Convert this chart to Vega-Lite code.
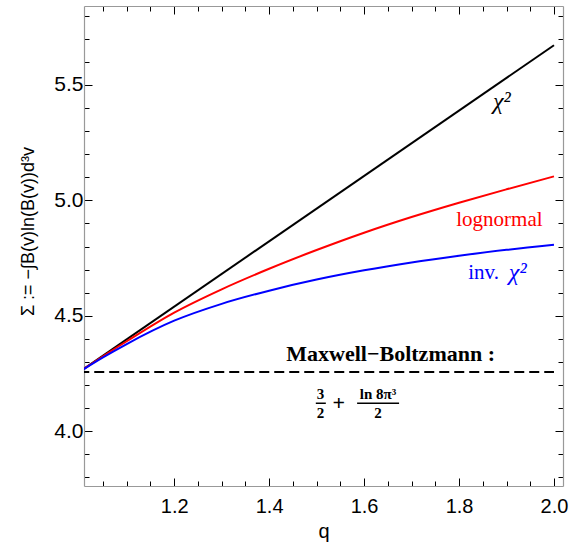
{
  "$schema": "https://vega.github.io/schema/vega-lite/v6.json",
  "width": 479,
  "height": 480,
  "autosize": {"type": "none"},
  "padding": {"left": 84, "top": 6, "right": 14, "bottom": 63},
  "background": "white",
  "config": {"view": {"stroke": null}},
  "datasets": {
    "curves": [
      {"q": 1.0, "s": 4.257, "dist": "chi2"},
      {"q": 2.0, "s": 5.672, "dist": "chi2"},
      {"q": 1.0, "s": 4.257, "dist": "lognormal"},
      {"q": 1.05, "s": 4.325, "dist": "lognormal"},
      {"q": 1.1, "s": 4.39, "dist": "lognormal"},
      {"q": 1.2, "s": 4.514, "dist": "lognormal"},
      {"q": 1.3, "s": 4.615, "dist": "lognormal"},
      {"q": 1.4, "s": 4.704, "dist": "lognormal"},
      {"q": 1.5, "s": 4.785, "dist": "lognormal"},
      {"q": 1.6, "s": 4.86, "dist": "lognormal"},
      {"q": 1.7, "s": 4.928, "dist": "lognormal"},
      {"q": 1.8, "s": 4.99, "dist": "lognormal"},
      {"q": 1.9, "s": 5.048, "dist": "lognormal"},
      {"q": 2.0, "s": 5.104, "dist": "lognormal"},
      {"q": 1.0, "s": 4.257, "dist": "invchi2"},
      {"q": 1.05, "s": 4.32, "dist": "invchi2"},
      {"q": 1.1, "s": 4.378, "dist": "invchi2"},
      {"q": 1.2, "s": 4.479, "dist": "invchi2"},
      {"q": 1.3, "s": 4.552, "dist": "invchi2"},
      {"q": 1.4, "s": 4.609, "dist": "invchi2"},
      {"q": 1.5, "s": 4.657, "dist": "invchi2"},
      {"q": 1.6, "s": 4.697, "dist": "invchi2"},
      {"q": 1.7, "s": 4.731, "dist": "invchi2"},
      {"q": 1.8, "s": 4.76, "dist": "invchi2"},
      {"q": 1.9, "s": 4.786, "dist": "invchi2"},
      {"q": 2.0, "s": 4.808, "dist": "invchi2"}
    ]
  },
  "resolve": {"axis": {"x": "independent", "y": "independent"}},
  "layer": [
    {
      "data": {"name": "curves"},
      "mark": {"type": "line", "strokeWidth": 2, "interpolate": "monotone", "clip": true},
      "encoding": {
        "x": {
          "field": "q", "type": "quantitative",
          "scale": {"domain": [1.01, 2.019], "nice": false, "zero": false},
          "axis": {
            "orient": "bottom",
            "values": [1.05, 1.1, 1.15, 1.2, 1.25, 1.3, 1.35, 1.4, 1.45, 1.5, 1.55, 1.6, 1.65, 1.7, 1.75, 1.8, 1.85, 1.9, 1.95, 2.0],
            "labelExpr": "abs(datum.value*5-round(datum.value*5))<0.001 ? format(datum.value,'.1f') : ''",
            "tickSize": {"condition": {"test": "abs(datum.value*5-round(datum.value*5))<0.001", "value": -8}, "value": -5},
            "tickColor": "#000",
            "tickWidth": 1,
            "domainColor": "#999",
            "domainWidth": 1.2,
            "grid": false,
            "labelFont": "Liberation Sans",
            "labelFontSize": 20,
            "labelColor": "#000",
            "labelPadding": 18,
            "labelFlush": false,
            "title": "q",
            "titleFont": "Liberation Sans",
            "titleFontSize": 20,
            "titleFontWeight": "normal",
            "titleColor": "#000",
            "titlePadding": 5
          }
        },
        "y": {
          "field": "s", "type": "quantitative",
          "scale": {"domain": [3.763, 5.842], "nice": false, "zero": false},
          "axis": {
            "orient": "left",
            "values": [3.8, 3.9, 4.0, 4.1, 4.2, 4.3, 4.4, 4.5, 4.6, 4.7, 4.8, 4.9, 5.0, 5.1, 5.2, 5.3, 5.4, 5.5, 5.6, 5.7, 5.8],
            "labelExpr": "abs(datum.value*2-round(datum.value*2))<0.001 ? format(datum.value,'.1f') : ''",
            "tickSize": {"condition": {"test": "abs(datum.value*2-round(datum.value*2))<0.001", "value": -8}, "value": -5},
            "tickColor": "#000",
            "tickWidth": 1,
            "domainColor": "#999",
            "domainWidth": 1.2,
            "grid": false,
            "labelFont": "Liberation Sans",
            "labelFontSize": 21,
            "labelColor": "#000",
            "labelPadding": 9,
            "labelFlush": false,
            "title": "Σ := −∫B(v)ln(B(v))d³v",
            "titleFont": "Liberation Sans",
            "titleFontSize": 18,
            "titleFontWeight": "normal",
            "titleColor": "#000",
            "titleX": -56,
            "titleY": 225,
            "titleAngle": -90,
            "titleAlign": "center",
            "titleBaseline": "middle"
          }
        },
        "color": {
          "field": "dist", "type": "nominal",
          "scale": {"domain": ["chi2", "lognormal", "invchi2"], "range": ["#000000", "#ff0000", "#0000ff"]},
          "legend": null
        }
      }
    },
    {
      "data": {"values": [{"q": 1.0, "q2": 2.0, "s": 4.257}]},
      "mark": {"type": "rule", "strokeDash": [10, 5], "strokeWidth": 2, "color": "#000", "clip": true},
      "encoding": {
        "x": {
          "field": "q", "type": "quantitative",
          "axis": {
            "orient": "top",
            "values": [1.05, 1.1, 1.15, 1.2, 1.25, 1.3, 1.35, 1.4, 1.45, 1.5, 1.55, 1.6, 1.65, 1.7, 1.75, 1.8, 1.85, 1.9, 1.95, 2.0],
            "labels": false,
            "tickSize": {"condition": {"test": "abs(datum.value*5-round(datum.value*5))<0.001", "value": -8}, "value": -5},
            "tickColor": "#000",
            "domainColor": "#999",
            "domainWidth": 1.2,
            "grid": false,
            "title": null
          }
        },
        "x2": {"field": "q2"},
        "y": {
          "field": "s", "type": "quantitative",
          "axis": {
            "orient": "right",
            "values": [3.8, 3.9, 4.0, 4.1, 4.2, 4.3, 4.4, 4.5, 4.6, 4.7, 4.8, 4.9, 5.0, 5.1, 5.2, 5.3, 5.4, 5.5, 5.6, 5.7, 5.8],
            "labels": false,
            "tickSize": {"condition": {"test": "abs(datum.value*2-round(datum.value*2))<0.001", "value": -8}, "value": -5},
            "tickColor": "#000",
            "domainColor": "#999",
            "domainWidth": 1.2,
            "grid": false,
            "title": null
          }
        }
      }
    },
    {
      "data": {"values": [{"q": 1.4983, "q2": 1.5194, "s": 4.1214}, {"q": 1.5853, "q2": 1.6737, "s": 4.1214}]},
      "mark": {"type": "rule", "strokeWidth": 1.5, "color": "#000"},
      "encoding": {
        "x": {"field": "q", "type": "quantitative", "axis": null},
        "x2": {"field": "q2"},
        "y": {"field": "s", "type": "quantitative", "axis": null}
      }
    },
    {
      "data": {"values": [{"q": 1.89, "s": 5.425, "label": "χ²"}]},
      "mark": {"type": "text", "font": "Liberation Serif", "fontStyle": "italic", "fontSize": 24, "color": "#000", "align": "center", "baseline": "middle"},
      "encoding": {
        "x": {"field": "q", "type": "quantitative", "axis": null},
        "y": {"field": "s", "type": "quantitative", "axis": null},
        "text": {"field": "label"}
      }
    },
    {
      "data": {"values": [{"q": 1.885, "s": 4.916, "label": "lognormal"}]},
      "mark": {"type": "text", "font": "Liberation Serif", "fontSize": 21, "color": "#ff0000", "align": "center", "baseline": "middle"},
      "encoding": {
        "x": {"field": "q", "type": "quantitative", "axis": null},
        "y": {"field": "s", "type": "quantitative", "axis": null},
        "text": {"field": "label"}
      }
    },
    {
      "data": {"values": [{"q": 1.8516, "s": 4.686, "label": "inv."}]},
      "mark": {"type": "text", "font": "Liberation Serif", "fontSize": 21, "color": "#0000ff", "align": "center", "baseline": "middle"},
      "encoding": {
        "x": {"field": "q", "type": "quantitative", "axis": null},
        "y": {"field": "s", "type": "quantitative", "axis": null},
        "text": {"field": "label"}
      }
    },
    {
      "data": {"values": [{"q": 1.9236, "s": 4.686, "label": "χ²"}]},
      "mark": {"type": "text", "font": "Liberation Serif", "fontStyle": "italic", "fontSize": 24, "color": "#0000ff", "align": "center", "baseline": "middle"},
      "encoding": {
        "x": {"field": "q", "type": "quantitative", "axis": null},
        "y": {"field": "s", "type": "quantitative", "axis": null},
        "text": {"field": "label"}
      }
    },
    {
      "data": {"values": [{"q": 1.656, "s": 4.335, "label": "Maxwell−Boltzmann :"}]},
      "mark": {"type": "text", "font": "Liberation Serif", "fontWeight": "bold", "fontSize": 22, "color": "#000", "align": "center", "baseline": "middle"},
      "encoding": {
        "x": {"field": "q", "type": "quantitative", "axis": null},
        "y": {"field": "s", "type": "quantitative", "axis": null},
        "text": {"field": "label"}
      }
    },
    {
      "data": {"values": [
        {"q": 1.5082, "s": 4.1617, "label": "3"},
        {"q": 1.5082, "s": 4.0806, "label": "2"},
        {"q": 1.6295, "s": 4.1617, "label": "ln 8π³"},
        {"q": 1.6295, "s": 4.0806, "label": "2"}
      ]},
      "mark": {"type": "text", "font": "Liberation Serif", "fontWeight": "bold", "fontSize": 15, "color": "#000", "align": "center", "baseline": "middle"},
      "encoding": {
        "x": {"field": "q", "type": "quantitative", "axis": null},
        "y": {"field": "s", "type": "quantitative", "axis": null},
        "text": {"field": "label"}
      }
    },
    {
      "data": {"values": [{"q": 1.5467, "s": 4.1227, "label": "+"}]},
      "mark": {"type": "text", "font": "Liberation Serif", "fontWeight": "bold", "fontSize": 22, "color": "#000", "align": "center", "baseline": "middle"},
      "encoding": {
        "x": {"field": "q", "type": "quantitative", "axis": null},
        "y": {"field": "s", "type": "quantitative", "axis": null},
        "text": {"field": "label"}
      }
    }
  ]
}
